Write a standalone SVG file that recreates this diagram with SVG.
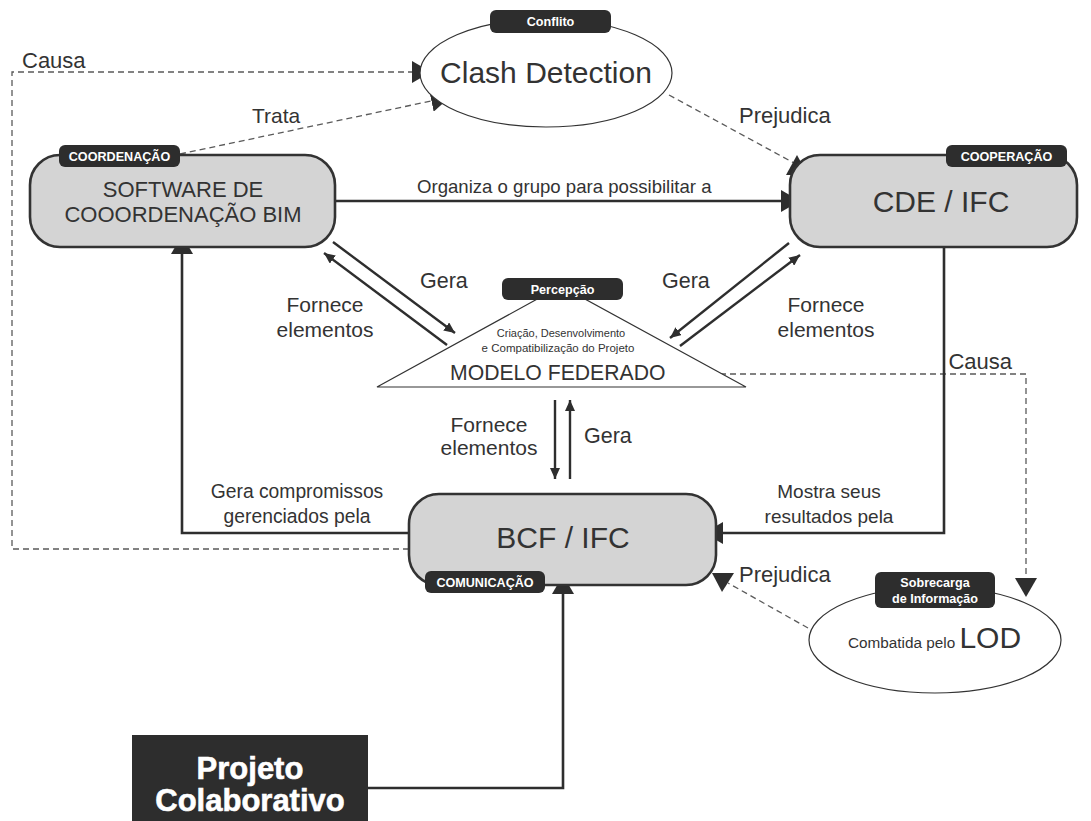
<svg xmlns="http://www.w3.org/2000/svg" width="1091" height="821" viewBox="0 0 1091 821">
  <style>
    .txt { font-family: "Liberation Sans", Arial, sans-serif; fill: #333333; }
    .mid { text-anchor: middle; }
    .tag { fill: #2d2d2d; }
    .tagtxt { font-family: "Liberation Sans", Arial, sans-serif; font-weight: bold; fill: #ffffff; text-anchor: middle; font-size: 12.6px; }
    .box { fill: #d4d4d4; stroke: #333333; stroke-width: 2.6; }
    .oval { fill: #ffffff; stroke: #333333; stroke-width: 1.2; }
    .solid { fill: none; stroke: #2e2e2e; stroke-width: 2.6; }
    .thin { fill: none; stroke: #2e2e2e; stroke-width: 2.4; }
    .dash { fill: none; stroke: #5a5a5a; stroke-width: 1.3; stroke-dasharray: 6 4; }
    .head { fill: #2e2e2e; }
    .title { font-family: "Liberation Sans", Arial, sans-serif; font-weight: bold; font-size: 31px; fill: #ffffff; stroke: #ffffff; stroke-width: 0.6; text-anchor: middle; }
  </style>
  <defs>
    <marker id="big" markerUnits="userSpaceOnUse" markerWidth="20" markerHeight="22" refX="19" refY="11" orient="auto">
      <path d="M0,0 L19,11 L0,22 z" class="head"/>
    </marker>
    <marker id="small" markerUnits="userSpaceOnUse" markerWidth="12" markerHeight="10" refX="11" refY="5" orient="auto">
      <path d="M0,0 L11,5 L0,10 z" class="head"/>
    </marker>
  </defs>

  <rect width="1091" height="821" fill="#ffffff"/>

  <!-- connectors -->
  <g id="connectors">
    <!-- Causa: BCF -> Clash Detection -->
    <polyline class="dash" points="409,549 12,549 12,72 431,72" marker-end="url(#big)"/>
    <!-- Trata: Software -> Clash Detection -->
    <line class="dash" x1="180" y1="154" x2="450" y2="97" marker-end="url(#big)"/>
    <!-- Prejudica: Clash Detection -> CDE -->
    <line class="dash" x1="669" y1="95" x2="794" y2="163"/>
    <polygon class="head" points="797,155 786,175 808,175"/>
    <!-- Organiza o grupo -->
    <line class="solid" x1="335" y1="201" x2="800" y2="201" marker-end="url(#big)"/>
    <!-- Software <-> Modelo Federado -->
    <line class="thin" x1="333" y1="242" x2="455" y2="333" marker-end="url(#small)"/>
    <line class="thin" x1="447" y1="345" x2="324" y2="253" marker-end="url(#small)"/>
    <!-- CDE <-> Modelo Federado -->
    <line class="thin" x1="789" y1="243" x2="670" y2="338" marker-end="url(#small)"/>
    <line class="thin" x1="680" y1="346" x2="800" y2="255" marker-end="url(#small)"/>
    <!-- Modelo Federado <-> BCF -->
    <line class="thin" x1="555" y1="400" x2="555" y2="479" marker-end="url(#small)"/>
    <line class="thin" x1="570" y1="479" x2="570" y2="400" marker-end="url(#small)"/>
    <!-- Causa: Modelo Federado -> Sobrecarga -->
    <polyline class="dash" points="670,374 1026,374 1026,597" marker-end="url(#big)"/>
    <!-- Gera compromissos: BCF -> Software -->
    <polyline class="solid" points="409,533 182,533 182,235" marker-end="url(#big)"/>
    <!-- Mostra seus resultados: CDE -> BCF -->
    <polyline class="solid" points="944,247 944,533 704,533" marker-end="url(#big)"/>
    <!-- Projeto Colaborativo -> BCF -->
    <polyline class="solid" points="368,788 563,788 563,575" marker-end="url(#big)"/>
    <!-- Prejudica: LOD -> BCF -->
    <line class="dash" x1="808" y1="628" x2="728" y2="583"/>
    <polygon class="head" points="712,573 734,573 722,592"/>

    <!-- connector labels -->
    <text class="txt" x="22" y="68" font-size="22">Causa</text>
    <text class="txt" x="252" y="123" font-size="21">Trata</text>
    <text class="txt" x="739" y="123" font-size="22">Prejudica</text>
    <text class="txt" x="417" y="193" font-size="18.6">Organiza o grupo para possibilitar a</text>
    <text class="txt" x="420" y="288" font-size="21.5">Gera</text>
    <text class="txt mid" x="325" y="312" font-size="21">Fornece</text>
    <text class="txt mid" x="325" y="337" font-size="21">elementos</text>
    <text class="txt" x="662" y="288" font-size="21.5">Gera</text>
    <text class="txt mid" x="826" y="312" font-size="21">Fornece</text>
    <text class="txt mid" x="826" y="337" font-size="21">elementos</text>
    <text class="txt" x="1012" y="369" font-size="22" text-anchor="end">Causa</text>
    <text class="txt mid" x="489" y="432" font-size="21">Fornece</text>
    <text class="txt mid" x="489" y="455" font-size="21">elementos</text>
    <text class="txt" x="584" y="443" font-size="21.5">Gera</text>
    <text class="txt mid" x="297" y="498" font-size="19.3">Gera compromissos</text>
    <text class="txt mid" x="297" y="523" font-size="19.3">gerenciados pela</text>
    <text class="txt mid" x="829" y="498" font-size="19">Mostra seus</text>
    <text class="txt mid" x="829" y="523" font-size="19">resultados pela</text>
    <text class="txt" x="739" y="582" font-size="22">Prejudica</text>
  </g>

  <!-- Clash Detection -->
  <g id="clash-detection">
    <ellipse class="oval" cx="546" cy="73" rx="126" ry="54"/>
    <rect class="tag" x="490" y="10" width="121" height="23" rx="6"/>
    <text class="tagtxt" x="550.5" y="26" font-size="12">Conflito</text>
    <text class="txt mid" x="546" y="83" font-size="30">Clash Detection</text>
  </g>

  <!-- Software de coordenacao BIM -->
  <g id="software">
    <rect class="box" x="30" y="155" width="305" height="92" rx="30"/>
    <rect class="tag" x="59" y="145" width="121" height="22" rx="6"/>
    <text class="tagtxt" x="119.5" y="161">COORDENAÇÃO</text>
    <text class="txt mid" x="183" y="197" font-size="22">SOFTWARE DE</text>
    <text class="txt mid" x="183" y="222" font-size="22">COOORDENAÇÃO BIM</text>
  </g>

  <!-- CDE / IFC -->
  <g id="cde">
    <rect class="box" x="790" y="155" width="287" height="92" rx="30"/>
    <rect class="tag" x="946" y="145" width="121" height="22" rx="6"/>
    <text class="tagtxt" x="1006.5" y="161">COOPERAÇÃO</text>
    <text class="txt mid" x="941" y="212" font-size="30">CDE / IFC</text>
  </g>

  <!-- Modelo federado -->
  <g id="modelo-federado">
    <polygon points="377,387 746,387 561,286" fill="#ffffff" stroke="#333333" stroke-width="1.2"/>
    <rect class="tag" x="502" y="278" width="121" height="22" rx="6"/>
    <text class="tagtxt" x="562.5" y="294">Percepção</text>
    <text class="txt mid" x="561" y="337" font-size="11">Criação, Desenvolvimento</text>
    <text class="txt mid" x="558" y="352" font-size="11.5">e Compatibilização do Projeto</text>
    <text class="txt" x="450" y="380" font-size="21.2">MODELO FEDERADO</text>
  </g>

  <!-- BCF / IFC -->
  <g id="bcf">
    <rect class="box" x="409" y="494" width="307" height="91" rx="30"/>
    <rect class="tag" x="425" y="571" width="120" height="22" rx="6"/>
    <text class="tagtxt" x="485" y="587">COMUNICAÇÃO</text>
    <text class="txt mid" x="563" y="548" font-size="30">BCF / IFC</text>
  </g>

  <!-- Sobrecarga de informacao -->
  <g id="sobrecarga">
    <ellipse class="oval" cx="935" cy="640" rx="126" ry="53"/>
    <rect class="tag" x="875" y="572" width="120" height="36" rx="6"/>
    <text class="tagtxt" x="935" y="587" font-size="13">Sobrecarga</text>
    <text class="tagtxt" x="935" y="603" font-size="13">de Informação</text>
    <text class="txt" x="848" y="648" font-size="15.3">Combatida pelo <tspan font-size="30">LOD</tspan></text>
  </g>

  <!-- Projeto colaborativo -->
  <g id="projeto">
    <rect x="132" y="735" width="236" height="90" fill="#2d2d2d"/>
    <text class="title" x="250" y="779">Projeto</text>
    <text class="title" x="250" y="811">Colaborativo</text>
  </g>
</svg>
